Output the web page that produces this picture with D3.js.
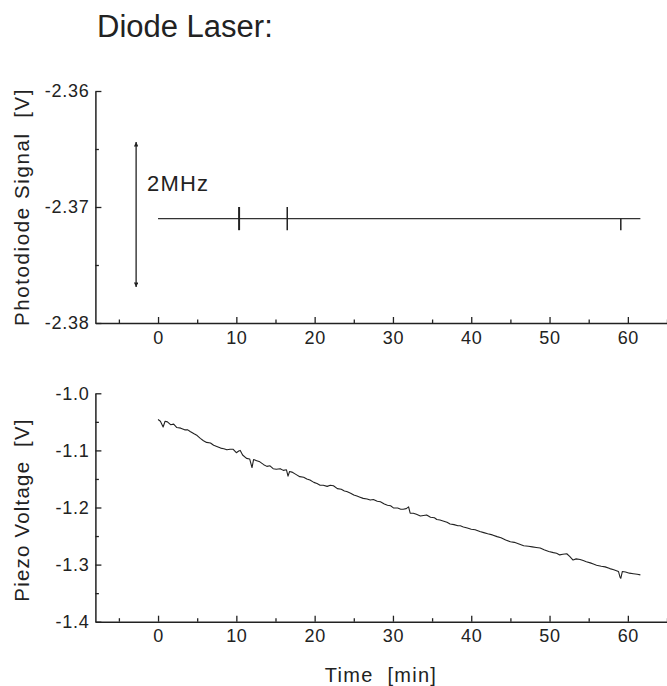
<!DOCTYPE html>
<html>
<head>
<meta charset="utf-8">
<script src="https://cdn.jsdelivr.net/npm/d3@7"></script>
<style>
	body { margin: 0; background: #fff; }
	svg { display: block; }
</style>
</head>
<body>
<div id="chart"></div>
<script>
(function (d3) {
	'use strict';

	// DATA
	const xTicks = [0, 10, 20, 30, 40, 50, 60];
	const xMinorTicks = [-5, 5, 15, 25, 35, 45, 55, 65];

	// photodiode: flat trace + short glitches
	const photoTime = [0, 61.6];
	const photoVolt = [-2.371, -2.371];
	const glitchTime = [10.35, 16.5, 59.1];
	const glitchHigh = [-2.3700, -2.3700, -2.3710];
	const glitchLow = [-2.3720, -2.3720, -2.3720];
	const photoTicks = [-2.36, -2.37, -2.38];
	const photoMinor = [-2.365, -2.375];
	const arrowTime = -2.8;
	const arrowSpan = [-2.3644, -2.3769];
	const arrowLabel = "2MHz";

	// piezo voltage drift
	const piezoTime = [0.0, 0.3, 0.65, 0.9, 1.2, 1.6, 2.0, 2.4, 2.9, 3.4, 3.8, 4.1, 4.6, 5.0, 5.4, 5.8, 6.2, 6.7, 7.1, 7.5,
		8.0, 8.4, 8.8, 9.2, 9.6, 10.0, 10.3, 10.5, 10.8, 11.3, 11.7, 12.0, 12.2, 12.6, 13.0, 13.5, 13.9, 14.3, 14.7, 15.1,
		15.6, 16.0, 16.4, 16.6, 16.8, 17.1, 17.6, 18.1, 18.6, 19.0, 19.4, 19.9, 20.3, 20.7, 21.1, 21.6, 22.0, 22.4, 22.9, 23.4,
		23.8, 24.1, 24.6, 25.0, 25.4, 25.8, 26.2, 26.7, 27.1, 27.5, 28.0, 28.4, 28.9, 29.3, 29.7, 30.1, 30.6, 31.0, 31.3, 31.7,
		32.0, 32.2, 32.6, 33.0, 33.5, 33.9, 34.3, 34.8, 35.3, 35.6, 36.0, 36.5, 36.9, 37.3, 37.8, 38.3, 38.6, 39.0, 39.5, 40.0,
		40.5, 41.1, 41.6, 42.1, 42.7, 43.3, 43.8, 44.4, 45.0, 45.5, 46.1, 46.7, 47.3, 47.8, 48.3, 48.8, 49.3, 49.9, 50.5, 50.9,
		51.3, 51.7, 52.2, 52.6, 53.0, 53.4, 53.9, 54.3, 54.7, 55.2, 55.6, 56.0, 56.6, 57.1, 57.7, 58.2, 58.8, 59.0, 59.1, 59.3,
		59.7, 60.2, 60.7, 61.2, 61.6];
	const piezoVolt = [-1.046, -1.049, -1.059, -1.049, -1.050, -1.055, -1.054, -1.060, -1.061, -1.064, -1.064, -1.067, -1.071, -1.074, -1.079, -1.083, -1.086, -1.087, -1.091, -1.093,
		-1.096, -1.097, -1.099, -1.098, -1.098, -1.104, -1.101, -1.100, -1.108, -1.114, -1.115, -1.130, -1.116, -1.118, -1.120, -1.125, -1.128, -1.127, -1.132, -1.133,
		-1.132, -1.135, -1.134, -1.145, -1.137, -1.138, -1.142, -1.146, -1.147, -1.150, -1.152, -1.156, -1.158, -1.161, -1.161, -1.163, -1.161, -1.162, -1.167, -1.168,
		-1.171, -1.172, -1.175, -1.178, -1.180, -1.182, -1.184, -1.185, -1.187, -1.186, -1.189, -1.190, -1.194, -1.196, -1.197, -1.201, -1.201, -1.203, -1.203, -1.202,
		-1.199, -1.210, -1.210, -1.212, -1.215, -1.214, -1.213, -1.217, -1.218, -1.221, -1.222, -1.224, -1.226, -1.229, -1.230, -1.232, -1.232, -1.234, -1.236, -1.238,
		-1.239, -1.242, -1.244, -1.246, -1.248, -1.251, -1.253, -1.257, -1.260, -1.261, -1.264, -1.267, -1.268, -1.269, -1.270, -1.271, -1.274, -1.277, -1.279, -1.280,
		-1.283, -1.282, -1.281, -1.286, -1.292, -1.290, -1.291, -1.293, -1.295, -1.297, -1.299, -1.301, -1.303, -1.304, -1.307, -1.309, -1.312, -1.322, -1.324, -1.312,
		-1.313, -1.315, -1.316, -1.317, -1.318];
	const piezoTicks = [-1.0, -1.1, -1.2, -1.3, -1.4];
	const piezoMinor = [-1.05, -1.15, -1.25, -1.35];

	const width = 667;
	const height = 686;
	const font = "'Liberation Sans', Arial, sans-serif";
	const ink = "#222";

	const svg = d3.select("#chart").append("svg")
		.attr("width", width)
		.attr("height", height);
	svg.append("rect").attr("width", width).attr("height", height).attr("fill", "#fff");

	// shared time scale
	const xScale = d3.scaleLinear().domain([-8, 65]).range([95.4, 667]);

	const yTop = d3.scaleLinear().domain([-2.38, -2.36]).range([323, 91]);
	const yBot = d3.scaleLinear().domain([-1.4, -1.0]).range([621.7, 393.3]);

	const styleAxis = (g, size) => {
		g.select('.domain').attr('stroke', ink).attr('stroke-width', 1.5);
		g.selectAll('.tick line').attr('stroke', ink).attr('stroke-width', 1.3);
		g.selectAll('.tick text')
			.attr('fill', ink)
			.style('font-family', font)
			.style('font-size', size + 'px')
			.style('letter-spacing', '0.7px');
	};

	const drawPanel = (yScale, majors, minors, digits, bottom) => {
		// minor ticks first, no labels
		const yMinorG = svg.append('g').attr('transform', `translate(${xScale.range()[0]},0)`)
			.call(d3.axisLeft(yScale).tickValues(minors).tickSize(-3.5).tickFormat(''));
		yMinorG.select('.domain').remove();
		yMinorG.selectAll('line').attr('stroke', ink).attr('stroke-width', 1.3);

		const xMinorG = svg.append('g').attr('transform', `translate(0,${bottom})`)
			.call(d3.axisBottom(xScale).tickValues(xMinorTicks).tickSize(-3.5).tickFormat(''));
		xMinorG.select('.domain').remove();
		xMinorG.selectAll('line').attr('stroke', ink).attr('stroke-width', 1.3);

		const yAxisG = svg.append('g').attr('transform', `translate(${xScale.range()[0]},0)`)
			.call(d3.axisLeft(yScale).tickValues(majors).tickSizeInner(-6).tickSizeOuter(0)
				.tickPadding(6).tickFormat(d => d.toFixed(digits)));
		styleAxis(yAxisG, 18);

		const xAxisG = svg.append('g').attr('transform', `translate(0,${bottom})`)
			.call(d3.axisBottom(xScale).tickValues(xTicks).tickSizeInner(-6).tickSizeOuter(0)
				.tickPadding(8).tickFormat(d3.format('d')));
		styleAxis(xAxisG, 18);
	};

	drawPanel(yTop, photoTicks, photoMinor, 2, 323);
	drawPanel(yBot, piezoTicks, piezoMinor, 1, 621.7);

	// photodiode trace
	const line = (ys) => d3.line().x(d => xScale(d[0])).y(d => ys(d[1]));
	svg.append('path')
		.datum(photoTime.map((t, i) => [t, photoVolt[i]]))
		.attr('d', line(yTop))
		.attr('fill', 'none')
		.attr('stroke', '#333')
		.attr('stroke-width', 1.1);

	svg.selectAll('line.glitch')
		.data(glitchTime)
		.enter().append('line')
		.attr('class', 'glitch')
		.attr('x1', d => xScale(d))
		.attr('x2', d => xScale(d))
		.attr('y1', (d, i) => yTop(glitchHigh[i]))
		.attr('y2', (d, i) => yTop(glitchLow[i]))
		.attr('stroke', ink)
		.attr('stroke-width', (d, i) => i == 0 ? 2 : 1.5);

	// 2MHz arrow
	const defs = svg.append('defs');
	defs.append('marker')
		.attr('id', 'head')
		.attr('viewBox', '0 0 10 10')
		.attr('refX', 10).attr('refY', 5)
		.attr('markerWidth', 11).attr('markerHeight', 4.5)
		.attr('markerUnits', 'userSpaceOnUse')
		.attr('orient', 'auto-start-reverse')
		.append('path')
		.attr('d', 'M0,0 L10,5 L0,10 Z')
		.attr('fill', ink);

	svg.append('line')
		.attr('x1', xScale(arrowTime)).attr('x2', xScale(arrowTime))
		.attr('y1', yTop(arrowSpan[0])).attr('y2', yTop(arrowSpan[1]))
		.attr('stroke', ink)
		.attr('stroke-width', 1.3)
		.attr('marker-start', 'url(#head)')
		.attr('marker-end', 'url(#head)');

	svg.append('text')
		.attr('x', 147).attr('y', 191)
		.text(arrowLabel)
		.attr('fill', ink)
		.style('font-family', font)
		.style('font-size', '22px')
		.style('letter-spacing', '1.2px');

	// piezo trace
	svg.append('path')
		.datum(piezoTime.map((t, i) => [t, piezoVolt[i]]))
		.attr('d', line(yBot))
		.attr('fill', 'none')
		.attr('stroke', ink)
		.attr('stroke-width', 1.1)
		.attr('stroke-linejoin', 'round');

	// titles
	svg.append('text')
		.attr('x', 97).attr('y', 37)
		.text('Diode Laser:')
		.attr('fill', ink)
		.style('font-family', font)
		.style('font-size', '31px');

	const yLabel = (txt, cy, ls) => svg.append('text')
		.attr('transform', `translate(29,${cy}) rotate(-90)`)
		.attr('text-anchor', 'middle')
		.text(txt)
		.attr('fill', ink)
		.style('font-family', font)
		.style('font-size', '20.5px')
		.style('letter-spacing', ls + 'px')
		.style('white-space', 'pre');

	yLabel('Photodiode Signal  [V]', 207, 1.6);
	yLabel('Piezo Voltage  [V]', 510, 1.2);

	svg.append('text')
		.attr('x', 381).attr('y', 682)
		.attr('text-anchor', 'middle')
		.text('Time  [min]')
		.attr('fill', ink)
		.style('font-family', font)
		.style('font-size', '20px')
		.style('letter-spacing', '1.3px')
		.style('white-space', 'pre');
}(d3));
</script>
</body>
</html>
